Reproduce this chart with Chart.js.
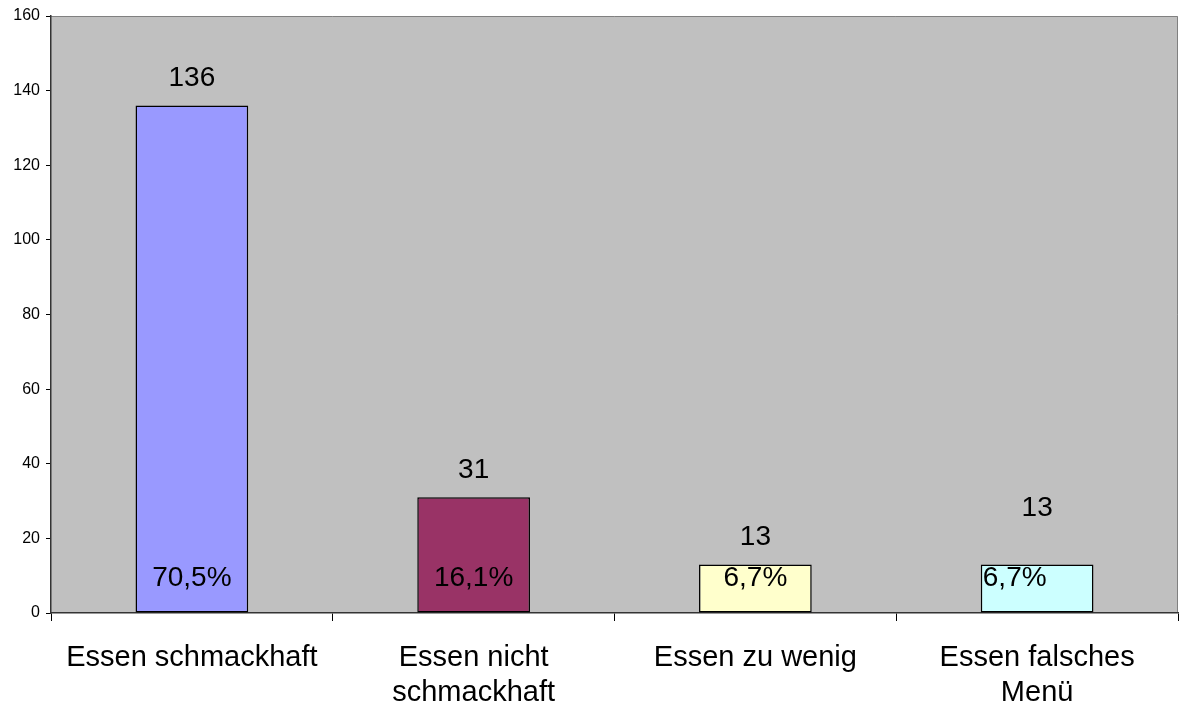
<!DOCTYPE html>
<html>
<head>
<meta charset="utf-8">
<script src="https://cdn.jsdelivr.net/npm/chart.js@4"></script>
<style>
  html, body { margin: 0; padding: 0; background: #fff; }
  #wrap { width: 1179px; height: 706px; }
</style>
</head>
<body>
<div id="wrap"><canvas id="chart"></canvas></div>
<script>
const categories = [
    'Essen schmackhaft',
    ['Essen nicht', 'schmackhaft'],
    'Essen zu wenig',
    ['Essen falsches', 'Menü'],
];
const counts = [136, 31, 13, 13];
const percents = ['70,5%', '16,1%', '6,7%', '6,7%'];
const barColors = ['#9999FF', '#993366', '#FFFFCC', '#CCFFFF'];
const yTicks = [0, 20, 40, 60, 80, 100, 120, 140, 160];

const FONT = 'Arial, "Liberation Sans", sans-serif';

// grey plot area with thin darker frame on top and right
const plotBg = {
    id: 'plotBg',
    beforeDraw: (chart) => {
        const { ctx, chartArea: a } = chart;
        ctx.save();
        ctx.fillStyle = '#C0C0C0';
        ctx.fillRect(a.left, a.top, a.right - a.left, a.bottom - a.top);
        ctx.strokeStyle = '#808080';
        ctx.lineWidth = 1;
        ctx.beginPath();
        ctx.moveTo(a.left, a.top + 0.5);
        ctx.lineTo(a.right - 0.5, a.top + 0.5);
        ctx.lineTo(a.right - 0.5, a.bottom);
        ctx.stroke();
        ctx.restore();
    },
};

// value above bar, percentage inside bar
const barLabels = {
    id: 'barLabels',
    afterDatasetsDraw: (chart) => {
        const { ctx } = chart;
        const meta = chart.getDatasetMeta(0);
        const y = chart.scales.y;
        ctx.save();
        ctx.fillStyle = '#000';
        ctx.font = '28px ' + FONT;
        ctx.textBaseline = 'middle';
        meta.data.forEach((bar, i) => {
            const lift = i === 3 ? 56 : 27;
            ctx.textAlign = 'center';
            ctx.fillText(String(counts[i]), bar.x, bar.y - lift);
            const py = y.getPixelForValue(0) - 35;
            if (i === 3) {
                ctx.textAlign = 'left';
                ctx.fillText(percents[i], bar.x - bar.width / 2 + 2, py);
            } else {
                ctx.fillText(percents[i], bar.x, py);
            }
        });
        ctx.restore();
    },
};

new Chart(document.getElementById('chart'), {
    type: 'bar',
    data: {
        labels: categories,
        datasets: [{
            data: counts,
            backgroundColor: barColors,
            borderColor: '#000',
            borderWidth: 1.5,
            borderSkipped: false,
            categoryPercentage: 0.8,
            barPercentage: 0.5,
        }],
    },
    options: {
        responsive: true,
        maintainAspectRatio: false,
        animation: false,
        layout: { padding: { top: 16, right: 1, left: 0, bottom: 0 } },
        plugins: {
            legend: { display: false },
            tooltip: { enabled: false },
        },
        scales: {
            x: {
                grid: {
                    offset: true,
                    drawOnChartArea: false,
                    drawTicks: true,
                    tickLength: 8,
                    color: '#000',
                },
                border: { color: '#333', width: 1.5 },
                ticks: {
                    color: '#000',
                    font: { family: FONT, size: 29, lineHeight: 1.2 },
                    padding: 20,
                    maxRotation: 0,
                },
                afterFit: (s) => { s.height = 93; },
            },
            y: {
                min: 0,
                max: 160,
                afterBuildTicks: (s) => { s.ticks = yTicks.map((v) => ({ value: v })); },
                grid: {
                    drawOnChartArea: false,
                    drawTicks: true,
                    tickLength: 5,
                    color: '#000',
                },
                border: { color: '#333', width: 1.5 },
                ticks: {
                    color: '#000',
                    font: { family: FONT, size: 16 },
                    padding: 6,
                },
                afterFit: (s) => { s.width = 51; },
            },
        },
    },
    plugins: [plotBg, barLabels],
});
</script>
</body>
</html>
